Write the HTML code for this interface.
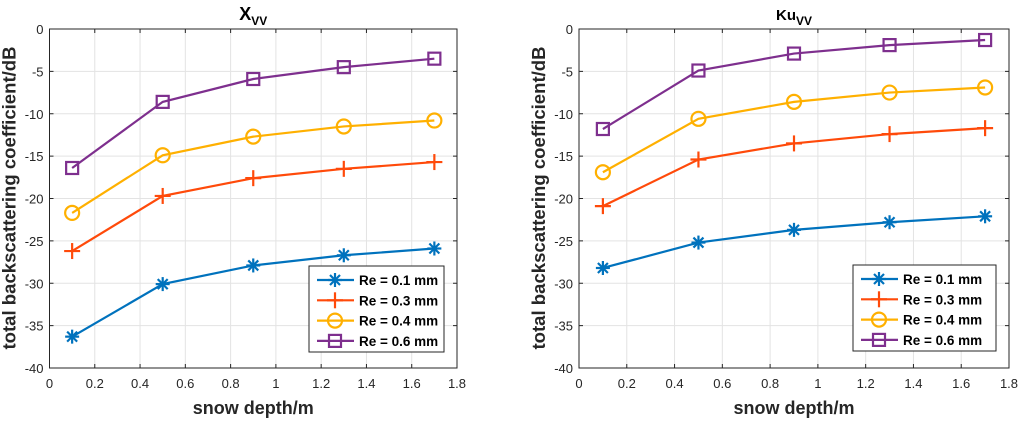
<!DOCTYPE html>
<html><head><meta charset="utf-8"><style>
body{margin:0;background:#fff;width:1024px;height:419px;overflow:hidden}
svg text{font-family:"Liberation Sans",Arial,sans-serif}
</style></head><body>
<svg id="svg" width="1024" height="419" xmlns="http://www.w3.org/2000/svg"></svg>
<script>
const xValues=[0.1,0.5,0.9,1.3,1.7];
const seriesLabels=["Re = 0.1 mm","Re = 0.3 mm","Re = 0.4 mm","Re = 0.6 mm"];
const xLeft01=[-36.3,-30.1,-27.9,-26.7,-25.9];
const xLeft03=[-26.2,-19.7,-17.6,-16.5,-15.7];
const xLeft04=[-21.7,-14.9,-12.7,-11.5,-10.8];
const xLeft06=[-16.4,-8.6,-5.9,-4.5,-3.5];
const ku01=[-28.2,-25.2,-23.7,-22.8,-22.1];
const ku03=[-20.9,-15.4,-13.5,-12.4,-11.7];
const ku04=[-16.9,-10.6,-8.6,-7.5,-6.9];
const ku06=[-11.8,-4.9,-2.9,-1.9,-1.3];
const xTicks=[0,0.2,0.4,0.6,0.8,1,1.2,1.4,1.6,1.8];
const yTicks=[0,-5,-10,-15,-20,-25,-30,-35,-40];
const colors=["#0072BD","#FF4A0A","#FFB000","#7E2F8E"];
const markers=["star","plus","circle","square"];
const NS="http://www.w3.org/2000/svg";
const svg=document.getElementById("svg");
function el(tag,attrs,parent){const e=document.createElementNS(NS,tag);for(const k in attrs)e.setAttribute(k,attrs[k]);(parent||svg).appendChild(e);return e;}
function marker(g,type,x,y,c){
  const s=7;
  if(type==="star"){
    for(const[a,b,cc,d] of [[-s,0,s,0],[0,-s,0,s],[-5,-5,5,5],[-5,5,5,-5]])el("line",{x1:x+a,y1:y+b,x2:x+cc,y2:y+d,stroke:c,"stroke-width":2.2},g);
  }else if(type==="plus"){
    el("line",{x1:x-s-1,y1:y,x2:x+s+1,y2:y,stroke:c,"stroke-width":2.2},g);
    el("line",{x1:x,y1:y-s-1,x2:x,y2:y+s+1,stroke:c,"stroke-width":2.2},g);
  }else if(type==="circle"){
    el("circle",{cx:x,cy:y,r:7,fill:"none",stroke:c,"stroke-width":2.2},g);
  }else{
    el("rect",{x:x-6,y:y-6,width:12,height:12,fill:"none",stroke:c,"stroke-width":2.2},g);
  }
}
function plot(cfg){
  const {L,R,T,B,title,sub,series,legend,name}=cfg;
  const g=el("g",{});
  
  
  const sx=v=>L+(v-0)/(1.8)*(R-L);
  const sy=v=>T+(0-v)/40*(B-T);
  el("rect",{x:L,y:T,width:R-L,height:B-T,fill:"#fff",stroke:"none"},g);
  xTicks.forEach(t=>{el("line",{x1:sx(t),y1:T,x2:sx(t),y2:B,stroke:"#e3e3e3","stroke-width":1},g);});
  yTicks.forEach(t=>{el("line",{x1:L,y1:sy(t),x2:R,y2:sy(t),stroke:"#e3e3e3","stroke-width":1},g);});
  el("rect",{x:L,y:T,width:R-L,height:B-T,fill:"none",stroke:"#262626","stroke-width":1},g);
  xTicks.forEach(t=>{
    el("line",{x1:sx(t),y1:B,x2:sx(t),y2:B-4,stroke:"#262626"},g);
    el("line",{x1:sx(t),y1:T,x2:sx(t),y2:T+4,stroke:"#262626"},g);
    const tx=el("text",{x:sx(t),y:B+20,"text-anchor":"middle","font-size":13,fill:"#262626"},g);tx.textContent=String(t);
    
    
  });
  yTicks.forEach(t=>{
    el("line",{x1:L,y1:sy(t),x2:L+4,y2:sy(t),stroke:"#262626"},g);
    el("line",{x1:R,y1:sy(t),x2:R-4,y2:sy(t),stroke:"#262626"},g);
    const tx=el("text",{x:L-6,y:sy(t)+5,"text-anchor":"end","font-size":13,fill:"#262626"},g);tx.textContent=String(t);
    
    
  });
  series.forEach((d,i)=>{
    const sg=el("g",{},g);
    
    
    el("polyline",{points:d.map((v,j)=>sx(xValues[j])+","+sy(v)).join(" "),fill:"none",stroke:colors[i],"stroke-width":2.2},sg);
    d.forEach((v,j)=>marker(sg,markers[i],sx(xValues[j]),sy(v),colors[i]));
  });
  const tt=el("text",{x:(L+R)/2,y:T-9,"text-anchor":"middle","font-size":cfg.tsize,"font-weight":"bold",fill:"#000"},g);
  tt.innerHTML=title+'<tspan font-size="12" dy="5">'+sub+'</tspan>';
  
  
  const xl=el("text",{x:(L+R)/2,y:B+46,"text-anchor":"middle","font-size":18,"font-weight":"bold",fill:"#262626"},g);
  xl.textContent="snow depth/m";
  
  
  const yx=L-34,yy=198;
  const yl=el("text",{x:yx,y:yy,"text-anchor":"middle","font-size":18.5,"font-weight":"bold",fill:"#262626",textLength:303,lengthAdjust:"spacingAndGlyphs",transform:`rotate(-90 ${yx} ${yy})`},g);
  yl.textContent="total backscattering coefficient/dB";
  
  
  const lg=el("g",{},g);
  
  
  el("rect",{x:legend.x,y:legend.y,width:legend.w,height:86,fill:"#fff",stroke:"#262626","stroke-width":1},lg);
  seriesLabels.forEach((s,i)=>{
    const y=legend.y+14+i*20.3;
    const eg=el("g",{},lg);
    
    
    el("line",{x1:legend.x+8,y1:y,x2:legend.x+45,y2:y,stroke:colors[i],"stroke-width":2.2},eg);
    marker(eg,markers[i],legend.x+26,y,colors[i]);
    const t=el("text",{x:legend.x+50,y:y+5,"font-size":13.5,"font-weight":"bold",fill:"#000"},eg);t.textContent=s;
  });
}
plot({L:49.5,R:457,T:29,B:368,title:"X",sub:"VV",tsize:18,series:[xLeft01,xLeft03,xLeft04,xLeft06],legend:{x:309,y:266,w:135},name:"x-band-plot"});
plot({L:579,R:1009,T:29,B:368,title:"Ku",sub:"VV",tsize:15,series:[ku01,ku03,ku04,ku06],legend:{x:853,y:265,w:143},name:"ku-band-plot"});
</script>
</body></html>
